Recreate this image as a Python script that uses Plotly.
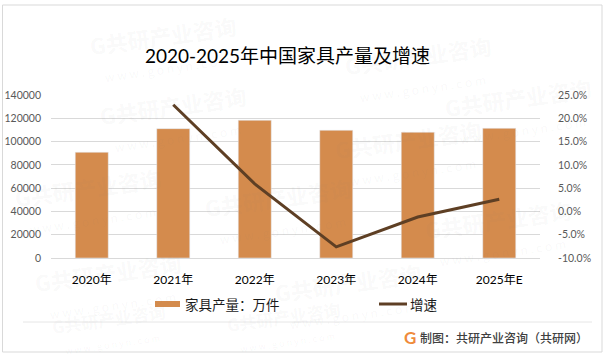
import plotly.graph_objects as go

# ---------------- data ----------------
years = ["2020年", "2021年", "2022年", "2023年", "2024年", "2025年E"]
output_wanjian = [90800, 111100, 118300, 109700, 108000, 111400]   # 家具产量：万件
growth = [None, 0.229, 0.059, -0.076, -0.012, 0.026]               # 增速

left_tickvals = [0, 20000, 40000, 60000, 80000, 100000, 120000, 140000]
left_ticktext = ["0", "20000", "40000", "60000", "80000", "100000", "120000", "140000"]
right_tickvals = [-0.10, -0.05, 0.0, 0.05, 0.10, 0.15, 0.20, 0.25]
right_ticktext = ["-10.0%", "-5.0%", "0.0%", "5.0%", "10.0%", "15.0%", "20.0%", "25.0%"]

title_text = "2020-2025年中国家具产量及增速"
bar_name = "家具产量：万件"
line_name = "增速"
source_text = "制图：共研产业咨询（共研网）"

# ---------------- style ----------------
W, H = 607, 359
L, R, T, B = 51, 67, 95, 101
PX0, PX1, PY0, PY1 = L, W - R, T, H - B
BAR_COLOR = "#D48B4D"
LINE_COLOR = "#5E3F24"
GRID = "#D9D9D9"
TICK = "#595959"
FONT = "Lato, 'Noto Sans CJK SC', sans-serif"
CJK = "'Noto Sans CJK SC', sans-serif"


def fx(x):
    return (x - PX0) / (PX1 - PX0)


def fy(y):
    return (PY1 - y) / (PY1 - PY0)


fig = go.Figure()
fig.add_trace(go.Bar(x=years, y=output_wanjian, marker_color=BAR_COLOR,
                     name=bar_name, showlegend=False, yaxis="y"))
fig.add_trace(go.Scatter(x=years, y=growth, mode="lines", name=line_name,
                         line=dict(color=LINE_COLOR, width=3), yaxis="y2",
                         showlegend=False))

shapes = [
    # outer border
    dict(type="rect", xref="paper", yref="paper", x0=fx(2.5), x1=fx(602), y0=fy(5), y1=fy(352),
         line=dict(color=GRID, width=1), fillcolor="rgba(0,0,0,0)", layer="below"),
    # footer separator
    dict(type="line", xref="paper", yref="paper", x0=fx(23), x1=fx(592), y0=fy(322), y1=fy(322),
         line=dict(color="#E6E6E6", width=1)),
    # legend swatches
    dict(type="rect", xref="paper", yref="paper", x0=fx(155), x1=fx(180), y0=fy(301), y1=fy(307),
         line=dict(width=0), fillcolor=BAR_COLOR),
    dict(type="line", xref="paper", yref="paper", x0=fx(379), x1=fx(407), y0=fy(304), y1=fy(304),
         line=dict(color=LINE_COLOR, width=3)),
]

annotations = []
# watermarks
wm_pos = [(165, 48, 22), (420, 68, 22), (175, 118, 22), (410, 152, 22),
          (90, 200, 22), (280, 210, 22), (500, 232, 22), (110, 285, 22), (350, 295, 22), (520, 110, 22),
          (110, 328, 17), (285, 326, 17)]
for (x, y, s) in wm_pos:
    annotations.append(dict(
        xref="paper", yref="paper", x=fx(x), y=fy(y), xanchor="center", yanchor="middle",
        text="<b>G共研产业咨询</b><br><span style='font-size:%dpx'>w w w . g o n y n . c o m</span>" % int(s * 0.55),
        showarrow=False, textangle=-8, font=dict(family=CJK, size=s, color="rgba(120,120,120,0.05)")))

# legend texts
annotations.append(dict(xref="paper", yref="paper", x=fx(183), y=fy(304), xanchor="left", yanchor="middle",
                        text=bar_name, showarrow=False,
                        font=dict(family=CJK, size=13.5, color="#1a1a1a")))
annotations.append(dict(xref="paper", yref="paper", x=fx(408), y=fy(304), xanchor="left", yanchor="middle",
                        text=line_name, showarrow=False,
                        font=dict(family=CJK, size=13.5, color="#1a1a1a")))

# footer
annotations.append(dict(xref="paper", yref="paper", x=fx(590), y=fy(337), xanchor="right", yanchor="middle",
                        text=source_text, showarrow=False,
                        font=dict(family=CJK, size=12, color="#404040", weight=500)))
annotations.append(dict(xref="paper", yref="paper", x=fx(410), y=fy(337), xanchor="center", yanchor="middle",
                        text="<b>G</b>", showarrow=False,
                        font=dict(family="Lato, sans-serif", size=17, color="#EF8B3C")))

fig.update_layout(
    width=W, height=H,
    margin=dict(l=L, r=R, t=T, b=B, pad=0, autoexpand=False),
    paper_bgcolor="white", plot_bgcolor="rgba(0,0,0,0)",
    title=dict(text=title_text, x=287.5 / W, y=1 - 56 / H, xref="container", yref="container",
               xanchor="center", yanchor="middle", automargin=False,
               font=dict(family=FONT, size=19, color="#000000")),
    bargap=0.595,
    showlegend=False,
    xaxis=dict(showgrid=False, showline=True, linecolor=GRID, linewidth=1, ticks="",
               tickfont=dict(family=FONT, size=12, color="#000000"), ticklabelstandoff=11,
               automargin=False, fixedrange=True),
    yaxis=dict(range=[0, 140000], tickvals=left_tickvals, ticktext=left_ticktext,
               showgrid=True, gridcolor=GRID, gridwidth=1, zeroline=False, showline=False,
               ticks="", tickfont=dict(family=FONT, size=10.5, color=TICK), ticklabelstandoff=9,
               automargin=False),
    yaxis2=dict(range=[-0.10, 0.25], tickvals=right_tickvals, ticktext=right_ticktext,
                overlaying="y", side="right", showgrid=False, zeroline=False, showline=False,
                ticks="", tickfont=dict(family=FONT, size=10.5, color=TICK), ticklabelstandoff=17,
                automargin=False),
    shapes=shapes,
    annotations=annotations,
)

fig.write_html("out.html", config={"displayModeBar": False},
               post_script="document.body.style.margin='0';document.body.style.overflow='hidden';")
